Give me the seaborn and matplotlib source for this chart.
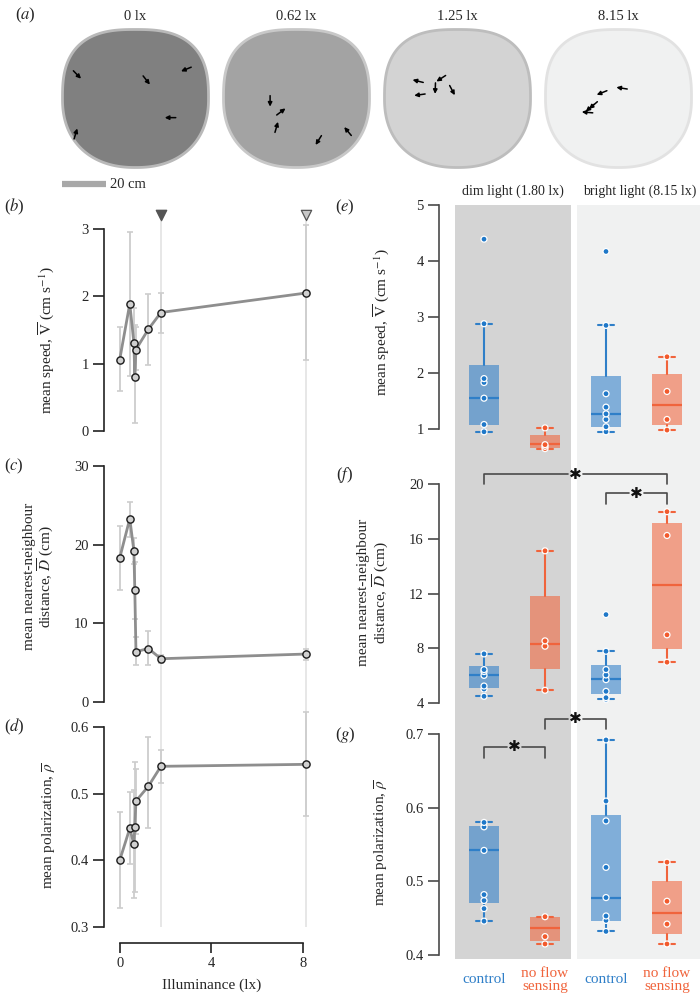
# ------------------
# Imports
# ------------------
import numpy as np
import matplotlib
matplotlib.use('Agg')
import matplotlib.pyplot as plt
import pandas as pd
import seaborn as sns


# ------------------
# Constants / data
# ------------------
OUT_FILE = 'out.png'
FIG_W, FIG_H = 700, 998

# (a) arenas : title, fill, edge
ARENA_LUX = ['0 lx', '0.62 lx', '1.25 lx', '8.15 lx']
ARENA_FILL = ['#808080', '#a3a3a3', '#d3d3d3', '#f0f1f1']
ARENA_EDGE = ['#b9b9b9', '#c8c8c8', '#bdbdbd', '#e2e2e2']

# fish position (cm from arena centre, y up) and heading (deg)
FISH_X = [[-26.5, 5.0, 23.0, 15.8, -27.2],
          [-12.0, -7.0, -9.1, 10.0, 23.3],
          [-18.0, -17.2, -7.5, -10.1, -2.4],
          [1.5, -7.6, -11.5, -13.0, -14.2]]
FISH_Y = [[10.8, 8.3, 13.3, -8.7, -16.0],
          [-1.2, -6.0, -13.0, -19.0, -14.9],
          [7.9, 1.7, 9.1, 4.6, 3.7],
          [4.7, 2.6, -3.1, -4.3, -6.3]]
FISH_HEAD = [[-46, -52, -158, 180, 73],
             [-90, 37, 74, -122, 130],
             [166, -172, -147, -92, -62],
             [171, -158, -139, -139, 175]]

# (b)-(d) illuminance series
ILLUM = [0, 0.44, 0.62, 0.66, 0.71, 1.25, 1.80, 8.15]
SPEED = [1.06, 1.89, 1.31, 0.80, 1.21, 1.51, 1.76, 2.05]
SPEED_LO = [0.59, 0.82, 0.82, 0.12, 0.90, 0.98, 1.46, 1.05]
SPEED_HI = [1.55, 2.96, 1.83, 1.58, 1.55, 2.04, 2.05, 3.06]
NND = [18.3, 23.3, 19.2, 14.2, 6.4, 6.8, 5.5, 6.1]
NND_LO = [14.2, 21.0, 17.5, 10.5, 4.7, 4.7, 5.0, 5.3]
NND_HI = [22.4, 25.4, 20.8, 17.8, 8.2, 9.0, 6.0, 6.8]
POL = [0.400, 0.448, 0.424, 0.450, 0.489, 0.511, 0.541, 0.544]
POL_LO = [0.328, 0.395, 0.343, 0.353, 0.440, 0.448, 0.516, 0.467]
POL_HI = [0.472, 0.503, 0.506, 0.547, 0.537, 0.585, 0.566, 0.622]
MARK_LUX = [1.80, 8.15]

# (e)-(g) groups : dim control, dim no flow, bright control, bright no flow
GROUPS = ['dim_ctrl', 'dim_nfs', 'bright_ctrl', 'bright_nfs']
TREAT = ['control', 'no flow\nsensing', 'control', 'no flow\nsensing']

E_PTS = [[0.95, 1.08, 1.55, 1.83, 1.90, 2.88, 4.39],
         [0.65, 0.69, 0.72, 1.02],
         [0.95, 1.04, 1.17, 1.27, 1.39, 1.63, 2.85, 4.17],
         [0.98, 1.17, 1.67, 2.29]]
E_Q1 = [1.07, 0.66, 1.04, 1.07]
E_MED = [1.55, 0.73, 1.27, 1.43]
E_Q3 = [2.15, 0.89, 1.95, 1.99]
E_WLO = [0.95, 0.65, 0.95, 0.98]
E_WHI = [2.88, 1.02, 2.85, 2.29]

F_PTS = [[4.49, 5.02, 5.24, 6.02, 6.30, 6.44, 7.59],
         [4.93, 8.15, 8.54, 15.12],
         [4.27, 4.39, 4.85, 5.71, 6.05, 6.44, 7.78, 10.46],
         [6.98, 8.98, 16.24, 17.98]]
F_Q1 = [5.12, 6.49, 4.68, 7.93]
F_MED = [6.07, 8.32, 5.73, 12.63]
F_Q3 = [6.68, 11.85, 6.78, 17.15]
F_WLO = [4.49, 4.93, 4.27, 6.98]
F_WHI = [7.59, 15.12, 7.78, 17.98]

G_PTS = [[0.446, 0.463, 0.474, 0.482, 0.542, 0.574, 0.580],
         [0.415, 0.425, 0.452],
         [0.432, 0.447, 0.453, 0.478, 0.519, 0.582, 0.609, 0.692],
         [0.415, 0.442, 0.473, 0.526]]
G_Q1 = [0.471, 0.419, 0.446, 0.428]
G_MED = [0.542, 0.437, 0.478, 0.457]
G_Q3 = [0.575, 0.451, 0.590, 0.500]
G_WLO = [0.446, 0.415, 0.432, 0.415]
G_WHI = [0.580, 0.452, 0.692, 0.526]

# significance brackets : (group from, group to, bar level, leg end)
F_SIG = [(0, 3, 20.73, 20.0), (2, 3, 19.32, 18.54)]
G_SIG = [(1, 2, 0.7204, 0.707), (0, 1, 0.683, 0.667)]

# colours
BLUE, ORANGE = '#2f7fc8', '#f0643c'
BLUE_PT, ORANGE_PT = '#1f78c8', '#f25a2c'
DIM_BG, BRIGHT_BG = '#d4d4d4', '#f0f1f1'
LINE_GRAY, ERR_GRAY, VLINE_GRAY = '#8e8e8e', '#cdcdcd', '#e3e3e3'


# ------------------
# Helpers
# ------------------
def fig_rect(left, top, right, bottom):
    """ pixel box -> figure fraction rect """
    return [left / FIG_W, 1 - bottom / FIG_H, (right - left) / FIG_W, (bottom - top) / FIG_H]


def fig_text(fig, x, y, s, **kw):
    fig.text(x / FIG_W, 1 - y / FIG_H, s, **kw)


def draw_arenas(ax):
    px_cm = 2.2
    t = np.linspace(0, 2 * np.pi, 400)
    c, s = np.cos(t), np.sin(t)
    n = np.where(s < 0, 2.7, 2.25)
    a, b, cy = 73.0, 69.0, 98.5
    for i in range(4):
        cx = 135.5 + 161.0 * i
        x = cx + a * np.sign(c) * np.abs(c) ** (2 / n)
        y = cy + b * np.sign(s) * np.abs(s) ** (2 / n)
        ax.fill(x, y, facecolor=ARENA_FILL[i], edgecolor=ARENA_EDGE[i], lw=2.0)
        ax.text(cx, 17, ARENA_LUX[i], ha='center', va='center', fontsize=10.5)
        for fx, fy, h in zip(FISH_X[i], FISH_Y[i], FISH_HEAD[i]):
            dx, dy = np.cos(np.radians(h)), np.sin(np.radians(h))
            tail = (cx + (fx - 2.5 * dx) * px_cm, cy - (fy - 2.5 * dy) * px_cm)
            head = (cx + (fx + 2.5 * dx) * px_cm, cy - (fy + 2.5 * dy) * px_cm)
            ax.annotate('', xy=head, xytext=tail,
                        arrowprops=dict(arrowstyle='-|>', color='k', lw=1.1,
                                        mutation_scale=6, shrinkA=0, shrinkB=0))
    # scale bar 20 cm
    ax.plot([62, 62 + 20 * px_cm], [184, 184], color='#a8a8a8', lw=4.5, solid_capstyle='butt')
    ax.text(110, 184, '20 cm', ha='left', va='center', fontsize=10.5)


def draw_line_panel(ax, y, lo, hi, ylim, yticks, vline_top, vline_bottom):
    y, lo, hi = np.array(y), np.array(lo), np.array(hi)
    ax.vlines(MARK_LUX, vline_bottom, vline_top, color=VLINE_GRAY, lw=1.2, zorder=0)
    ax.errorbar(ILLUM, y, yerr=[y - lo, hi - y], fmt='none', ecolor=ERR_GRAY,
                elinewidth=1.3, capsize=2, capthick=1.2, zorder=1, clip_on=False)
    sns.lineplot(x=ILLUM, y=y, ax=ax, color=LINE_GRAY, lw=2, marker='o', markersize=5.2,
                 markerfacecolor='#d0d0d0', markeredgecolor='#1a1a1a', markeredgewidth=1,
                 errorbar=None, zorder=3, clip_on=False)
    ax.set_xlim(-0.686, 8.75)
    ax.set_ylim(*ylim)
    ax.set_yticks(yticks)
    ax.spines['left'].set_bounds(yticks[0], yticks[-1])
    for sp in ['top', 'right', 'bottom']:
        ax.spines[sp].set_visible(False)
    ax.spines['left'].set_color('#222222')
    ax.spines['left'].set_linewidth(1.2)
    ax.tick_params(axis='y', length=8, width=1.2, color='#222222', labelsize=10.5, pad=3)
    ax.tick_params(axis='x', bottom=False, labelbottom=False)
    ax.set_xlabel('')
    ax.set_ylabel('')
    ax.patch.set_alpha(0)


def draw_box_panel(ax, pts, q1, med, q3, wlo, whi, ylim, yticks):
    rows = []
    for g, p in zip(GROUPS, pts):
        for v in p:
            rows.append({'group': g, 'value': v, 'treat': 'ctrl' if 'ctrl' in g else 'nfs'})
    df = pd.DataFrame(rows)
    sns.stripplot(data=df, x='group', y='value', hue='treat', order=GROUPS,
                  hue_order=['ctrl', 'nfs'], palette={'ctrl': BLUE_PT, 'nfs': ORANGE_PT},
                  jitter=False, size=4.3, linewidth=0.9, edgecolor='white',
                  legend=False, ax=ax, zorder=5, clip_on=False)

    stats = [dict(q1=a, med=m, q3=c, whislo=lo, whishi=hi, fliers=[])
             for a, m, c, lo, hi in zip(q1, med, q3, wlo, whi)]
    bp = ax.bxp(stats, positions=range(4), widths=0.49, capwidths=0.25, patch_artist=True,
                showfliers=False, manage_ticks=False)
    for i in range(4):
        col = BLUE if i % 2 == 0 else ORANGE
        bp['boxes'][i].set(facecolor=col, alpha=0.58, edgecolor='none', zorder=2)
        bp['medians'][i].set(color=col, lw=1.6, zorder=3)
        for ln in bp['whiskers'][2 * i:2 * i + 2] + bp['caps'][2 * i:2 * i + 2]:
            ln.set(color=col, lw=1.5, zorder=3)

    ax.axvspan(-0.475, 1.426, color=DIM_BG, lw=0, zorder=0)
    ax.axvspan(1.525, 3.7, color=BRIGHT_BG, lw=0, zorder=0)
    ax.set_xlim(-0.738, 3.541)
    ax.set_ylim(*ylim)
    ax.set_yticks(yticks)
    ax.spines['left'].set_bounds(yticks[0], yticks[-1])
    for sp in ['top', 'right', 'bottom']:
        ax.spines[sp].set_visible(False)
    ax.spines['left'].set_color('#4a4a4a')
    ax.spines['left'].set_linewidth(1.2)
    ax.tick_params(axis='y', length=8, width=1.2, color='#4a4a4a', labelsize=10.5, pad=3)
    ax.tick_params(axis='x', bottom=False, labelbottom=False)
    ax.set_xlabel('')
    ax.set_ylabel('')
    ax.patch.set_alpha(0)


def draw_sig(ax, sigs):
    gap = 0.12
    for x1, x2, ytop, yleg in sigs:
        xm = (x1 + x2) / 2
        kw = dict(color='#4a4a4a', lw=1.2, clip_on=False, zorder=6)
        ax.plot([x1, x1, xm - gap], [yleg, ytop, ytop], **kw)
        ax.plot([xm + gap, x2, x2], [ytop, ytop, yleg], **kw)
        ax.text(xm, ytop, '\u2731', ha='center', va='center', fontsize=11,
                family='DejaVu Sans', color='#111111', zorder=7, clip_on=False)


# ------------------
# Main
# ------------------
def main():
    sns.set_style('ticks')
    plt.rcParams['font.family'] = ['Liberation Serif', 'DejaVu Sans']
    plt.rcParams['mathtext.fontset'] = 'stix'

    fig = plt.figure(figsize=(FIG_W / 100, FIG_H / 100), dpi=100)

    # (a) arenas
    ax_a = fig.add_axes([0, 1 - 200 / FIG_H, 1, 200 / FIG_H])
    ax_a.set_xlim(0, FIG_W)
    ax_a.set_ylim(200, 0)
    ax_a.axis('off')
    draw_arenas(ax_a)

    # (b)-(d)
    ax_b = fig.add_axes(fig_rect(104, 205, 320, 447))
    ax_c = fig.add_axes(fig_rect(104, 447, 320, 712))
    ax_d = fig.add_axes(fig_rect(104, 712, 320, 930))
    draw_line_panel(ax_b, SPEED, SPEED_LO, SPEED_HI, (-0.238, 3.357), [0, 1, 2, 3], 3.12, -0.238)
    draw_line_panel(ax_c, NND, NND_LO, NND_HI, (-1.27, 32.415), [0, 10, 20, 30], 32.415, -1.27)
    draw_line_panel(ax_d, POL, POL_LO, POL_HI, (0.2955, 0.6225), [0.3, 0.4, 0.5, 0.6], 0.6225, 0.3)
    ax_b.scatter([MARK_LUX[0]], [3.21], marker='v', s=55, color='#555555', zorder=4, clip_on=False)
    ax_b.scatter([MARK_LUX[1]], [3.21], marker='v', s=55, facecolor='#c8c8c8',
                 edgecolor='#555555', lw=0.9, zorder=4, clip_on=False)
    ax_d.spines['bottom'].set_visible(True)
    ax_d.spines['bottom'].set_position(('outward', 9.4))
    ax_d.spines['bottom'].set_bounds(0, 8)
    ax_d.spines['bottom'].set_color('#222222')
    ax_d.spines['bottom'].set_linewidth(1.2)
    ax_d.set_xticks([0, 4, 8])
    ax_d.tick_params(axis='x', bottom=True, labelbottom=True, length=7, width=1.2,
                     color='#222222', labelsize=10.5, pad=3)
    ax_d.set_xlabel('Illuminance (lx)', fontsize=11, labelpad=6)

    ax_b.text(-0.264, 0.44, r'mean speed, $\overline{\mathrm{V}}$ (cm s$^{-1}$)', rotation=90,
              ha='center', va='center', fontsize=11, transform=ax_b.transAxes)
    ax_c.text(-0.30, 0.51, 'mean nearest-neighbour\n' + r'distance, $\overline{D}$ (cm)',
              rotation=90, ha='center', va='center', fontsize=11, linespacing=1.0,
              multialignment='center', transform=ax_c.transAxes)
    ax_d.text(-0.25, 0.48, r'mean polarization, $\overline{\rho}$', rotation=90,
              ha='center', va='center', fontsize=11, transform=ax_d.transAxes)

    # (e)-(g)
    ax_e = fig.add_axes(fig_rect(439, 205, 700, 458))
    ax_f = fig.add_axes(fig_rect(439, 458, 700, 712))
    ax_g = fig.add_axes(fig_rect(439, 712, 700, 959))
    draw_box_panel(ax_e, E_PTS, E_Q1, E_MED, E_Q3, E_WLO, E_WHI, (0.482, 5.0), [1, 2, 3, 4, 5])
    draw_box_panel(ax_f, F_PTS, F_Q1, F_MED, F_Q3, F_WLO, F_WHI, (3.343, 21.90), [4, 8, 12, 16, 20])
    draw_box_panel(ax_g, G_PTS, G_Q1, G_MED, G_Q3, G_WLO, G_WHI, (0.3946, 0.7299), [0.4, 0.5, 0.6, 0.7])
    draw_sig(ax_f, F_SIG)
    draw_sig(ax_g, G_SIG)

    ax_e.text(0.475, 1.055, 'dim light (1.80 lx)', ha='center', va='center', fontsize=10,
              transform=ax_e.get_xaxis_transform())
    ax_e.text(2.55, 1.055, 'bright light (8.15 lx)', ha='center', va='center', fontsize=10,
              transform=ax_e.get_xaxis_transform())
    for i, lab in enumerate(TREAT):
        ax_g.text(i, -0.085, lab, ha='center', va='center', fontsize=11, linespacing=1.0,
                  color=BLUE if i % 2 == 0 else ORANGE, transform=ax_g.get_xaxis_transform())

    ax_e.text(-0.218, 0.537, r'mean speed, $\overline{\mathrm{V}}$ (cm s$^{-1}$)', rotation=90,
              ha='center', va='center', fontsize=11, transform=ax_e.transAxes)
    ax_f.text(-0.249, 0.469, 'mean nearest-neighbour\n' + r'distance, $\overline{D}$ (cm)',
              rotation=90, ha='center', va='center', fontsize=11, linespacing=1.0,
              multialignment='center', transform=ax_f.transAxes)
    ax_g.text(-0.218, 0.47, r'mean polarization, $\overline{\rho}$', rotation=90,
              ha='center', va='center', fontsize=11, transform=ax_g.transAxes)

    # panel letters
    for lab, x, y in [('a', 25, 15), ('b', 14, 207), ('c', 14, 466), ('d', 14, 727),
                      ('e', 345, 207), ('f', 345, 475), ('g', 345, 735)]:
        fig_text(fig, x, y, '($%s$)' % lab, ha='center', va='center', fontsize=12)

    fig.savefig(OUT_FILE, dpi=100)


if __name__ == '__main__':
    main()
